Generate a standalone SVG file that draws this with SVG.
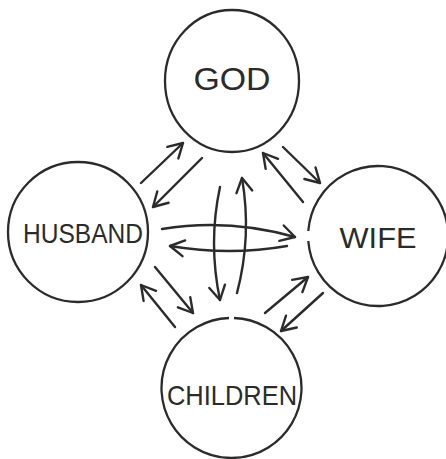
<svg xmlns="http://www.w3.org/2000/svg" width="446" height="459" viewBox="0 0 446 459">
<defs>
<marker id="ah" markerUnits="userSpaceOnUse" markerWidth="34" markerHeight="34" refX="0" refY="0" viewBox="-17 -17 34 34" orient="auto">
<path d="M -14 -8 L 0 0 L -14 8" fill="none" stroke="#2b2b2b" stroke-width="2.4" stroke-linecap="round" stroke-linejoin="round"/>
</marker>
<style>
.c{fill:none;stroke:#2b2b2b;stroke-width:2.3}
.t{font-family:"Liberation Sans",Arial,sans-serif;fill:#2b2b2b;text-anchor:middle}
.a{fill:none;stroke:#2b2b2b;stroke-width:2.4;stroke-linecap:round;marker-end:url(#ah)}
</style>
</defs>
<rect width="446" height="459" fill="#fff"/>
<g id="god">
<ellipse class="c" cx="232" cy="81" rx="67" ry="71"/>
<text class="t" x="232" y="90" font-size="32" textLength="77" lengthAdjust="spacingAndGlyphs">GOD</text>
</g>
<g id="husband">
<circle class="c" cx="78" cy="232" r="70"/>
<text class="t" x="83" y="243" font-size="27" textLength="120" lengthAdjust="spacingAndGlyphs">HUSBAND</text>
</g>
<g id="wife">
<path class="c" d="M 308.3 231 A 70 70 0 1 1 308.3 241"/>
<text class="t" x="378" y="248" font-size="30" textLength="77" lengthAdjust="spacingAndGlyphs">WIFE</text>
</g>
<g id="children">
<path class="c" d="M 234 318 A 70 70 0 1 1 229 318"/>
<text class="t" x="232" y="405" font-size="28" textLength="130" lengthAdjust="spacingAndGlyphs">CHILDREN</text>
</g>
<g id="connectors">
<path class="a" d="M 141 183 L 183 143"/>
<path class="a" d="M 202 158 L 153 207"/>
<path class="a" d="M 283 147 L 320 183"/>
<path class="a" d="M 303 202 L 263 153"/>
<path class="a" d="M 162 229 Q 228 218 295 237"/>
<path class="a" d="M 287 246 Q 230 256 170 246"/>
<path class="a" d="M 220 187 Q 208 243 220 300"/>
<path class="a" d="M 237 293 Q 252 236 242 178"/>
<path class="a" d="M 155 267 L 193 313"/>
<path class="a" d="M 175 327 L 141 285"/>
<path class="a" d="M 265 313 L 308 277"/>
<path class="a" d="M 323 293 L 281 331"/>
</g>
</svg>
